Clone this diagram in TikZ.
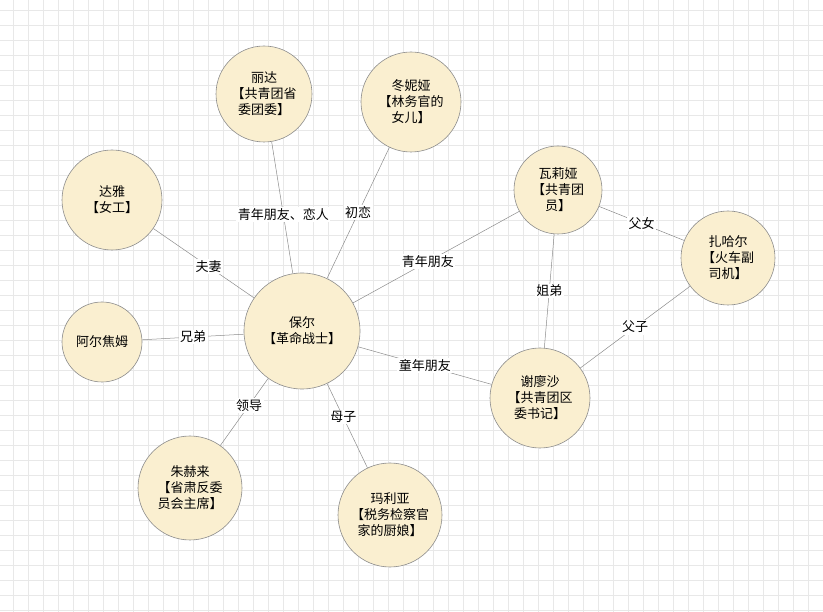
\documentclass[tikz,border=0pt]{standalone}
\usepackage{fontspec}
\setmainfont{Noto Sans CJK SC}
\begin{document}
\begin{tikzpicture}[x=1pt,y=-1pt,
  per/.style={circle,draw=black!45,fill={rgb,255:red,250;green,239;blue,208},line width=0.6pt,align=center,inner sep=0pt,font=\fontsize{13}{16}\selectfont},
  rel/.style={draw=black!45,line width=0.5pt},
  gridline/.style={draw=black!9,line width=0.5pt},
  lab/.style={fill=white,inner sep=1.5pt,font=\fontsize{13}{15}\selectfont}]
\useasboundingbox (0,0) rectangle (823,612);
\foreach \i in {0,...,55} {\draw[gridline] (13+15*\i,0) -- (13+15*\i,612);}
\foreach \j in {0,...,41} {\draw[gridline] (0,10+15*\j) -- (823,10+15*\j);}
\node[per,minimum size=116] (p) at (302,331) {保尔\\【革命战士】};
\node[per,minimum size=96] (l) at (264,94) {丽达\\【共青团省\\委团委】};
\node[per,minimum size=100] (d) at (411,102) {冬妮娅\\【林务官的\\女儿】};
\node[per,minimum size=100] (y) at (112,200) {达雅\\【女工】};
\node[per,minimum size=80] (a) at (102,342) {阿尔焦姆};
\node[per,minimum size=104] (z) at (190,488) {朱赫来\\【省肃反委\\员会主席】};
\node[per,minimum size=104] (m) at (390,515) {玛利亚\\【税务检察官\\家的厨娘】};
\node[per,minimum size=88] (w) at (558,190) {瓦莉娅\\【共青团\\员】};
\node[per,minimum size=94] (h) at (728,258) {扎哈尔\\【火车副\\司机】};
\node[per,minimum size=100] (s) at (540,398) {谢廖沙\\【共青团区\\委书记】};
\draw[rel] (p) -- node[lab,pos=0.45] {青年朋友、恋人} (l);
\draw[rel] (p) -- node[lab,pos=0.5] {初恋} (d);
\draw[rel] (p) -- node[lab,pos=0.45] {夫妻} (y);
\draw[rel] (p) -- node[lab,pos=0.5] {兄弟} (a);
\draw[rel] (p) -- node[lab,pos=0.4] {领导} (z);
\draw[rel] (p) -- node[lab,pos=0.4] {母子} (m);
\draw[rel] (p) -- node[lab,pos=0.45] {青年朋友} (w);
\draw[rel] (p) -- node[lab,pos=0.5] {童年朋友} (s);
\draw[rel] (w) -- node[lab,pos=0.5] {父女} (h);
\draw[rel] (w) -- node[lab,pos=0.5] {姐弟} (s);
\draw[rel] (h) -- node[lab,pos=0.5] {父子} (s);
\end{tikzpicture}
\end{document}
